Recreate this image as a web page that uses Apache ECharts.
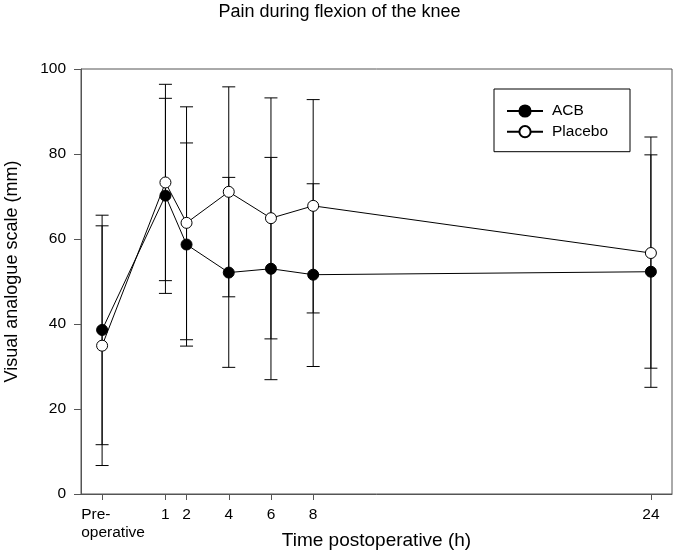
<!DOCTYPE html>
<html>
<head>
<meta charset="utf-8">
<script src="https://cdn.jsdelivr.net/npm/echarts@6/dist/echarts.min.js"></script>
<style>html,body{margin:0;padding:0;background:#fff}#c{width:679px;height:560px}</style>
</head>
<body>
<div id="c"></div>
<script>
const hours = [-2, 1, 2, 4, 6, 8, 24];
const tickLabels = ['Pre-\noperative', '1', '2', '4', '6', '8', '24'];
const acbMean = [38.6, 70.2, 58.7, 52.1, 53.0, 51.6, 52.3];
const acbLow = [11.6, 47.2, 34.8, 29.8, 26.9, 30.0, 25.1];
const acbHigh = [65.6, 93.1, 82.6, 74.5, 79.2, 73.0, 79.8];
const placeboMean = [34.9, 73.3, 63.8, 71.1, 64.9, 67.8, 56.7];
const placeboLow = [6.7, 50.2, 36.3, 46.4, 36.5, 42.6, 29.6];
const placeboHigh = [63.1, 96.4, 91.1, 95.8, 93.2, 92.8, 84.0];

const FONT = "'Liberation Sans', Arial, sans-serif";
const AXC = '#555';

function pts(means) { return hours.map((h, i) => [h, means[i]]); }
function errs(lo, hi) { return hours.map((h, i) => [h, lo[i], hi[i]]); }

function renderErr(params, api) {
  const x = api.value(0), lo = api.value(1), hi = api.value(2);
  const a = api.coord([x, lo]), b = api.coord([x, hi]);
  const w = 6.5;
  const st = { stroke: '#000', lineWidth: 1 };
  return {
    type: 'group',
    children: [
      { type: 'line', shape: { x1: a[0], y1: a[1], x2: b[0], y2: b[1] }, style: st },
      { type: 'line', shape: { x1: a[0] - w, y1: a[1], x2: a[0] + w, y2: a[1] }, style: st },
      { type: 'line', shape: { x1: b[0] - w, y1: b[1], x2: b[0] + w, y2: b[1] }, style: st }
    ]
  };
}

const chart = echarts.init(document.getElementById('c'), null, { renderer: 'canvas' });
chart.setOption({
  animation: false,
  backgroundColor: '#fff',
  textStyle: { fontFamily: FONT },
  title: {
    text: 'Pain during flexion of the knee',
    left: 'center', top: 3, padding: 0,
    textStyle: { fontFamily: FONT, fontSize: 18, fontWeight: 'normal', color: '#000' }
  },
  legend: {
    data: ['ACB', 'Placebo'],
    orient: 'vertical',
    left: 494, top: 89,
    itemWidth: 36, itemHeight: 14, itemGap: 4.7,
    padding: [14, 22, 12, 12],
    borderColor: '#000', borderWidth: 1,
    textStyle: { fontFamily: FONT, fontSize: 15.5, color: '#000', padding: [0, 0, 0, 4] }
  },
  grid: {
    left: 81, right: 7, top: 69, bottom: 66,
    outerBoundsMode: 'none', containLabel: false,
    show: true, borderColor: AXC, borderWidth: 1, backgroundColor: 'transparent'
  },
  xAxis: {
    type: 'value', min: -3, max: 25,
    name: 'Time postoperative (h)',
    nameLocation: 'middle', nameGap: 37, nameMoveOverlap: false,
    nameTextStyle: { fontFamily: FONT, fontSize: 19, color: '#000' },
    axisLine: { show: true, onZero: false, lineStyle: { color: AXC, width: 1 } },
    axisTick: { show: true, length: 6, customValues: hours, lineStyle: { color: AXC } },
    splitLine: { show: false },
    axisLabel: {
      customValues: hours,
      margin: 12,
      fontFamily: FONT, fontSize: 15.5, color: '#000', lineHeight: 18,
      formatter: function (v) {
        const i = hours.indexOf(v);
        if (i === 0) return '{pre|' + tickLabels[0].split('\n').join('}\n{pre|') + '}';
        return i >= 0 ? tickLabels[i] : '';
      },
      rich: {
        pre: { fontFamily: FONT, fontSize: 15.5, lineHeight: 18, color: '#000', align: 'left', padding: [0, 0, 0, 22] }
      }
    }
  },
  yAxis: {
    type: 'value', min: 0, max: 100, interval: 20,
    name: 'Visual analogue scale (mm)',
    nameLocation: 'middle', nameGap: 60, nameMoveOverlap: false,
    nameTextStyle: { fontFamily: FONT, fontSize: 18, color: '#000', padding: [0, 0, 0, 20] },
    axisLine: { show: true, onZero: false, lineStyle: { color: AXC, width: 1 } },
    axisTick: { show: true, length: 7, lineStyle: { color: AXC } },
    splitLine: { show: false },
    axisLabel: { margin: 15, fontFamily: FONT, fontSize: 15.5, color: '#000' }
  },
  series: [
    {
      name: 'ACB-err', type: 'custom', renderItem: renderErr, silent: true, z: 1,
      encode: { x: 0, y: [1, 2] }, data: errs(acbLow, acbHigh)
    },
    {
      name: 'Placebo-err', type: 'custom', renderItem: renderErr, silent: true, z: 1,
      encode: { x: 0, y: [1, 2] }, data: errs(placeboLow, placeboHigh)
    },
    {
      name: 'ACB', type: 'line', z: 3, data: pts(acbMean),
      symbol: 'circle', symbolSize: 11,
      lineStyle: { color: '#000', width: 1 },
      itemStyle: { color: '#000', borderColor: '#000', borderWidth: 1 }
    },
    {
      name: 'Placebo', type: 'line', z: 4, data: pts(placeboMean),
      symbol: 'circle', symbolSize: 11,
      lineStyle: { color: '#000', width: 1 },
      itemStyle: { color: '#fff', borderColor: '#000', borderWidth: 1 }
    }
  ]
});
</script>
</body>
</html>
